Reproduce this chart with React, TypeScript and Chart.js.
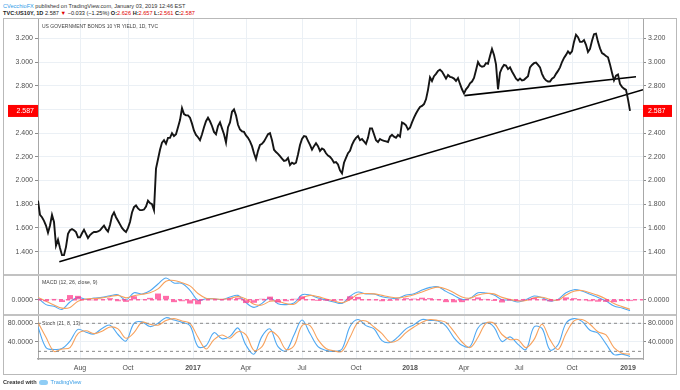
import React, { useEffect, useRef } from "react";
import { Chart, registerables } from "chart.js";
Chart.register(...registerables);

// ---------- data ----------
// daily yield, read about every 2.5 trading days (PRICE_STEP axis units apart)
const PRICE_STEP = 0.5;
const PRICE = [
  1.83, 1.71, 1.69, 1.66, 1.62, 1.56, 1.62, 1.71, 1.65, 1.45,
  1.50, 1.43, 1.37, 1.37, 1.44, 1.55, 1.58, 1.59, 1.58, 1.565,
  1.52, 1.52, 1.555, 1.585, 1.55, 1.515, 1.54, 1.555, 1.565, 1.565,
  1.57, 1.58, 1.60, 1.62, 1.59, 1.57, 1.625, 1.70, 1.73, 1.69,
  1.66, 1.63, 1.60, 1.58, 1.565, 1.60, 1.65, 1.73, 1.775, 1.79,
  1.765, 1.75, 1.75, 1.755, 1.78, 1.83, 1.81, 1.80, 1.75, 2.10,
  2.18, 2.26, 2.32, 2.34, 2.31, 2.36, 2.36, 2.40, 2.375, 2.39,
  2.45, 2.51, 2.61, 2.56, 2.55,
  2.55, 2.53, 2.48, 2.42, 2.385, 2.365, 2.34, 2.39, 2.45, 2.50,
  2.53, 2.50, 2.46, 2.41, 2.39, 2.46, 2.49, 2.44, 2.39, 2.32,
  2.45, 2.49, 2.58, 2.60, 2.55, 2.47, 2.43, 2.415, 2.41, 2.38,
  2.36, 2.33, 2.29, 2.23, 2.18, 2.25, 2.30, 2.31, 2.33, 2.36,
  2.39, 2.40, 2.34, 2.26, 2.24, 2.225, 2.205, 2.185, 2.165, 2.17,
  2.19, 2.13, 2.15, 2.14, 2.15, 2.22, 2.30, 2.35, 2.375, 2.37,
  2.335, 2.30, 2.26, 2.29, 2.315, 2.29, 2.25, 2.27, 2.26, 2.23,
  2.21, 2.20, 2.18, 2.15, 2.155,
  2.135, 2.085, 2.06, 2.15, 2.19, 2.23, 2.25, 2.30, 2.335, 2.36,
  2.375, 2.34, 2.35, 2.33, 2.31, 2.36, 2.44, 2.44, 2.39, 2.34,
  2.325, 2.35, 2.34, 2.335, 2.33, 2.325, 2.37, 2.385, 2.37, 2.36,
  2.385, 2.37, 2.49, 2.48, 2.465, 2.43, 2.445, 2.49, 2.53, 2.565,
  2.595, 2.62, 2.63, 2.645, 2.685, 2.765, 2.87, 2.84, 2.88, 2.90,
  2.925, 2.935, 2.92, 2.89, 2.86, 2.89, 2.875, 2.87, 2.86, 2.84,
  2.865, 2.815, 2.77, 2.735, 2.77, 2.79, 2.82, 2.835, 2.865, 2.93,
  3.00, 2.97, 2.96, 2.965, 2.99,
  2.985, 3.05, 3.11, 3.06, 2.98, 2.77, 2.91, 2.95, 2.975, 2.97,
  2.94, 2.955, 2.92, 2.89, 2.86, 2.845, 2.86, 2.845, 2.85, 2.865,
  2.88, 2.955, 2.975, 2.99, 2.995, 2.975, 2.955, 2.90, 2.865, 2.845,
  2.835, 2.835, 2.86, 2.87, 2.90, 2.925, 2.955, 3.00, 3.035, 3.06,
  3.09, 3.07, 3.09, 3.17, 3.23, 3.21, 3.17, 3.17, 3.185, 3.145,
  3.085, 3.11, 3.18, 3.235, 3.24, 3.17, 3.115, 3.075, 3.065, 3.05,
  3.04, 2.98, 2.91, 2.845, 2.885, 2.895, 2.815, 2.79, 2.775, 2.765,
  2.685, 2.587,
];
const LAST = 2.587;

// trendlines: [start, end] in axis units / yield
const TREND_LOW_X = [5.33, 151.25];
const TREND_LOW_Y = [1.315, 2.766];
const NECK_X = [106.6, 149.5];
const NECK_Y = [2.716, 2.876];

// indicators, one value every IND_STEP axis units
const IND_STEP = 2;
const MACD = [
  0.011, -0.032, -0.043, -0.063, -0.015, 0.015, 0.002, 0.011, 0.015, 0.026,
  0.032, -0.002, 0.045, 0.037, 0.058, 0.102, 0.141, 0.108, 0.106, 0.061,
  -0.004, 0.006, 0.006, 0, 0.017, 0.028, -0.019, -0.05, -0.024, 0.013,
  -0.026, -0.032, -0.022, 0.032, 0.03, 0.011, -0.002, -0.015, -0.024, 0.022,
  0.05, 0.037, 0.037, 0.019, 0.011, 0.009, 0.03, 0.039, 0.063, 0.08,
  0.084, 0.054, 0.028, 0.002, 0.009, 0.045, 0.043, 0.03, 0, -0.002,
  -0.015, 0, 0.024, 0.013, -0.009, 0.002, 0.045, 0.065, 0.056, 0.035,
  0.015, -0.009, -0.041, -0.054, -0.071,
];
const SIGNAL = [
  0.015, -0.01, -0.035, -0.055, -0.05, -0.01, 0.005, 0.007, 0.012, 0.02,
  0.028, 0.012, 0.025, 0.035, 0.045, 0.07, 0.12, 0.125, 0.11, 0.09,
  0.04, 0.01, 0.006, 0.003, 0.008, 0.02, 0.005, -0.03, -0.035, -0.01,
  -0.01, -0.025, -0.03, 0.01, 0.028, 0.02, 0.005, -0.008, -0.02, 0,
  0.035, 0.04, 0.038, 0.028, 0.018, 0.012, 0.02, 0.032, 0.05, 0.07,
  0.082, 0.07, 0.045, 0.018, 0.01, 0.03, 0.04, 0.038, 0.015, 0.002,
  -0.008, -0.005, 0.012, 0.016, 0.002, -0.002, 0.03, 0.055, 0.06, 0.045,
  0.028, 0.005, -0.025, -0.045, -0.062,
];
const HIST = [
  0, -0.01, 0.005, -0.015, 0.03, 0.025, -0.003, -0.005, 0.003, 0.01,
  -0.01, -0.014, 0.022, 0.004, 0.012, 0.04, 0.025, -0.016, -0.01, -0.025,
  -0.03, -0.004, 0, -0.003, 0.009, 0.012, -0.022, -0.02, 0.006, 0.02,
  -0.018, -0.01, 0.006, 0.022, 0.004, -0.008, -0.007, -0.007, -0.004, 0.022,
  0.018, -0.003, -0.004, -0.01, -0.007, -0.003, 0.01, 0.007, 0.013, 0.01,
  0.002, -0.016, -0.017, -0.016, 0, 0.015, 0.005, -0.008, -0.018, -0.004,
  -0.007, 0.005, 0.012, -0.003, -0.011, 0.004, 0.015, 0.01, -0.004, -0.01,
  -0.013, -0.014, -0.016, -0.009, -0.009,
];
const STOCH_K = [
  72, 28, 24, 26, 42, 67, 61, 57, 69, 76,
  56, 42, 80, 83, 73, 80, 92, 87, 82, 75,
  30, 32, 60, 47, 52, 70, 33, 14, 52, 68,
  30, 21, 55, 87, 58, 30, 22, 20, 25, 73,
  88, 75, 68, 43, 39, 51, 68, 77, 88, 86,
  85, 74, 49, 33, 30, 70, 81, 72, 41, 51,
  35, 24, 72, 69, 23, 34, 80, 90, 84, 65,
  59, 36, 13, 14, 9,
];
const STOCH_D = [
  82, 50, 20, 25, 28, 58, 64, 58, 63, 72,
  68, 48, 60, 82, 78, 76, 86, 90, 85, 80,
  50, 25, 45, 55, 48, 62, 55, 22, 30, 62,
  52, 24, 32, 75, 75, 45, 26, 21, 20, 50,
  82, 85, 72, 58, 40, 44, 60, 72, 82, 88,
  86, 82, 62, 40, 28, 50, 80, 80, 56, 45,
  45, 28, 45, 78, 45, 24, 58, 85, 88, 78,
  62, 55, 28, 16, 14,
];

// x axis: month marks (axis units) and labels
const X_MAX = 151.25;
const TICK_POS = [10.5, 22.5, 38.75, 52, 66, 79.5, 93, 106.5, 120.25, 133.5, 147.5];
const TICK_LABELS = ["Aug", "Oct", "2017", "Apr", "Jul", "Oct", "2018", "Apr", "Jul", "Oct", "2019"];
const PRICE_TICKS = [1.4, 1.6, 1.8, 2.0, 2.2, 2.4, 2.6, 2.8, 3.0, 3.2];
const MACD_TICKS = [0];
const STOCH_TICKS = [40, 80];
const STOCH_LEVELS = [80, 20];

// ---------- styles ----------
const FONT = "'Liberation Sans', Arial, sans-serif";
const GRID = "#ebf0f5";
const AXIS = "#a8a8a8";
const TXT = "#4f4f4f";
const BLUE = "#4fa8f2";
const ORANGE = "#f7a15c";
const PINK = "rgba(255, 60, 140, 0.75)";

function xScale(show: boolean) {
  return {
    type: "linear",
    min: 0,
    max: X_MAX,
    offset: false,
    afterBuildTicks: (s: any) => {
      s.ticks = TICK_POS.map((v) => ({ value: v }));
    },
    grid: { color: GRID, drawTicks: false, offset: false },
    border: { display: show, color: AXIS, width: 1.5 },
    ticks: {
      display: show,
      autoSkip: false,
      maxRotation: 0,
      padding: 5,
      color: TXT,
      font: (c: any) => ({
        family: FONT,
        size: 7,
        weight: /^\d{4}$/.test(TICK_LABELS[c.index] || "") ? "bold" : "normal",
      }),
      callback: (_v: any, i: number) => TICK_LABELS[i],
    },
    afterFit: (s: any) => {
      s.height = show ? 15 : 0;
      s.paddingLeft = 0;
      s.paddingRight = 0;
    },
  };
}

function yScale(pos: "left" | "right", min: number, max: number, ticks: number[], digits: number) {
  return {
    type: "linear",
    position: pos,
    min,
    max,
    afterBuildTicks: (s: any) => {
      s.ticks = ticks.map((v) => ({ value: v }));
    },
    grid: {
      color: GRID,
      drawOnChartArea: pos === "left",
      tickLength: 3,
      tickColor: "#8c8c8c",
    },
    border: { color: AXIS },
    ticks: {
      color: TXT,
      padding: 2,
      font: { family: FONT, size: 7 },
      callback: (v: any) => Number(v).toFixed(digits),
    },
    afterFit: (s: any) => {
      s.width = pos === "left" ? 38 : 37;
      s.paddingTop = 0;
      s.paddingBottom = 0;
    },
  };
}

const baseOpts = {
  responsive: false,
  animation: false,
  devicePixelRatio: 1,
  events: [],
  layout: { padding: 0 },
  plugins: { legend: { display: false }, tooltip: { enabled: false } },
};

const lastLabel = {
  id: "lastLabel",
  afterDraw(chart: any) {
    const { ctx, chartArea, scales } = chart;
    const py = scales.y.getPixelForValue(LAST);
    const txt = LAST.toFixed(3);
    ctx.save();
    ctx.fillStyle = "#ff0000";
    ctx.fillRect(chartArea.right, py - 6, 29, 12);
    ctx.fillRect(chartArea.left - 30, py - 6, 30, 12);
    ctx.fillStyle = "#ffffff";
    ctx.font = `7px ${FONT}`;
    ctx.textBaseline = "middle";
    ctx.textAlign = "left";
    ctx.fillText(txt, chartArea.right + 5, py + 0.5);
    ctx.textAlign = "right";
    ctx.fillText(txt, chartArea.left - 4, py + 0.5);
    ctx.restore();
  },
};

const pts = (xs: number[], ys: number[]) => xs.map((x, i) => ({ x, y: ys[i] }));
const ind = (arr: number[]) => arr.map((v, k) => ({ x: k * IND_STEP, y: v }));
const flat = (v: number) => [{ x: 0, y: v }, { x: X_MAX, y: v }];

export default function App() {
  const mainRef = useRef<HTMLCanvasElement>(null);
  const macdRef = useRef<HTMLCanvasElement>(null);
  const stochRef = useRef<HTMLCanvasElement>(null);

  useEffect(() => {
    const charts: Chart[] = [];

    charts.push(
      new Chart(mainRef.current as HTMLCanvasElement, {
        type: "line",
        data: {
          datasets: [
            {
              data: PRICE.map((v, i) => ({ x: i * PRICE_STEP, y: v })),
              borderColor: "#151515",
              borderWidth: 1.9,
              pointRadius: 0,
              tension: 0,
            },
            {
              data: pts(TREND_LOW_X, TREND_LOW_Y),
              borderColor: "#000000",
              borderWidth: 1.6,
              pointRadius: 0,
            },
            {
              data: pts(NECK_X, NECK_Y),
              borderColor: "#000000",
              borderWidth: 1.6,
              pointRadius: 0,
            },
          ],
        },
        options: {
          ...baseOpts,
          scales: {
            x: xScale(false),
            y: yScale("left", 1.211, 3.363, PRICE_TICKS, 3),
            yR: yScale("right", 1.211, 3.363, PRICE_TICKS, 3),
          },
        } as any,
        plugins: [lastLabel],
      })
    );

    charts.push(
      new Chart(macdRef.current as HTMLCanvasElement, {
        type: "line",
        data: {
          datasets: [
            {
              type: "bar",
              data: ind(HIST),
              backgroundColor: PINK,
              barPercentage: 0.75,
              categoryPercentage: 1,
            } as any,
            {
              data: flat(0),
              borderColor: PINK,
              borderWidth: 1.5,
              borderDash: [4, 3],
              pointRadius: 0,
            },
            {
              data: ind(SIGNAL),
              borderColor: ORANGE,
              borderWidth: 1.1,
              pointRadius: 0,
              tension: 0.35,
            },
            {
              data: ind(MACD),
              borderColor: BLUE,
              borderWidth: 1.1,
              pointRadius: 0,
              tension: 0.35,
            },
          ],
        },
        options: {
          ...baseOpts,
          scales: {
            x: xScale(false),
            y: yScale("left", -0.093, 0.154, MACD_TICKS, 4),
            yR: yScale("right", -0.093, 0.154, MACD_TICKS, 4),
          },
        } as any,
      })
    );

    charts.push(
      new Chart(stochRef.current as HTMLCanvasElement, {
        type: "line",
        data: {
          datasets: [
            ...STOCH_LEVELS.map((lv) => ({
              data: flat(lv),
              borderColor: "#8a8a8a",
              borderWidth: 1,
              borderDash: [3, 3],
              pointRadius: 0,
            })),
            {
              data: ind(STOCH_D),
              borderColor: ORANGE,
              borderWidth: 1.1,
              pointRadius: 0,
              tension: 0.35,
            },
            {
              data: ind(STOCH_K),
              borderColor: BLUE,
              borderWidth: 1.1,
              pointRadius: 0,
              tension: 0.35,
            },
          ],
        },
        options: {
          ...baseOpts,
          scales: {
            x: xScale(true),
            y: yScale("left", 3.6, 95.6, STOCH_TICKS, 4),
            yR: yScale("right", 3.6, 95.6, STOCH_TICKS, 4),
          },
        } as any,
      })
    );

    return () => charts.forEach((c) => c.destroy());
  }, []);

  const abs = (o: React.CSSProperties): React.CSSProperties => ({ position: "absolute", ...o });
  const small: React.CSSProperties = { fontFamily: FONT, whiteSpace: "nowrap", lineHeight: "7px" };

  return (
    <div style={{ position: "fixed", left: 0, top: 0, width: 680, height: 390, background: "#fff", overflow: "hidden" }}>
      {/* header */}
      <div style={abs({ left: 3, top: 3, fontSize: "5.6px", color: "#333", ...small })}>
        <span style={{ color: "#2e9be8" }}>CVecchioFX</span> published on TradingView.com, January 03, 2019 12:46 EST
      </div>
      <div style={abs({ left: 3, top: 10, fontSize: "5.6px", color: "#222", ...small })}>
        <b>TVC:US10Y, 1D</b> 2.587 <span style={{ color: "#e00000" }}>▼</span> −0.033 (−1.25%) <b>O:</b>
        <span style={{ color: "#e00000" }}>2.626</span> <b>H:</b>
        <span style={{ color: "#e00000" }}>2.657</span> <b>L:</b>
        <span style={{ color: "#e00000" }}>2.561</span> <b>C:</b>
        <span style={{ color: "#e00000" }}>2.587</span>
      </div>

      {/* frame */}
      <div style={abs({ left: 3, top: 18, width: 672, height: 355, border: "1px solid #b9b9b9" })} />

      <canvas ref={mainRef} width={680} height={255} style={abs({ left: 0, top: 19, width: 680, height: 255 })} />
      <canvas ref={macdRef} width={680} height={38} style={abs({ left: 0, top: 276, width: 680, height: 38 })} />
      <canvas ref={stochRef} width={680} height={58} style={abs({ left: 0, top: 316, width: 680, height: 58 })} />

      {/* panel separators */}
      <div style={abs({ left: 4, top: 274, width: 672, height: 2, background: "#c2c2c2" })} />
      <div style={abs({ left: 4, top: 314, width: 672, height: 2, background: "#c2c2c2" })} />

      {/* panel titles */}
      <div style={abs({ left: 42, top: 23, fontSize: "5px", color: "#444", ...small })}>
        US GOVERNMENT BONDS 10 YR YIELD, 1D, TVC
      </div>
      <div style={abs({ left: 42, top: 279, fontSize: "5.2px", color: "#444", ...small })}>
        MACD (12, 26, close, 9)
      </div>
      <div style={abs({ left: 42, top: 320, fontSize: "5.2px", color: "#444", background: "#fff", ...small })}>
        Stoch (21, 8, 13)
      </div>

      {/* footer */}
      <div style={abs({ left: 3, top: 379, fontSize: "5.6px", color: "#333", ...small })}>
        <b>Created with</b>{" "}
        <span
          style={{
            display: "inline-block",
            width: 9,
            height: 5,
            borderRadius: 3,
            background: "#8fcdf5",
            verticalAlign: "middle",
            margin: "0 1px",
          }}
        />{" "}
        <span style={{ color: "#3a9ee6" }}>TradingView</span>
      </div>
    </div>
  );
}
